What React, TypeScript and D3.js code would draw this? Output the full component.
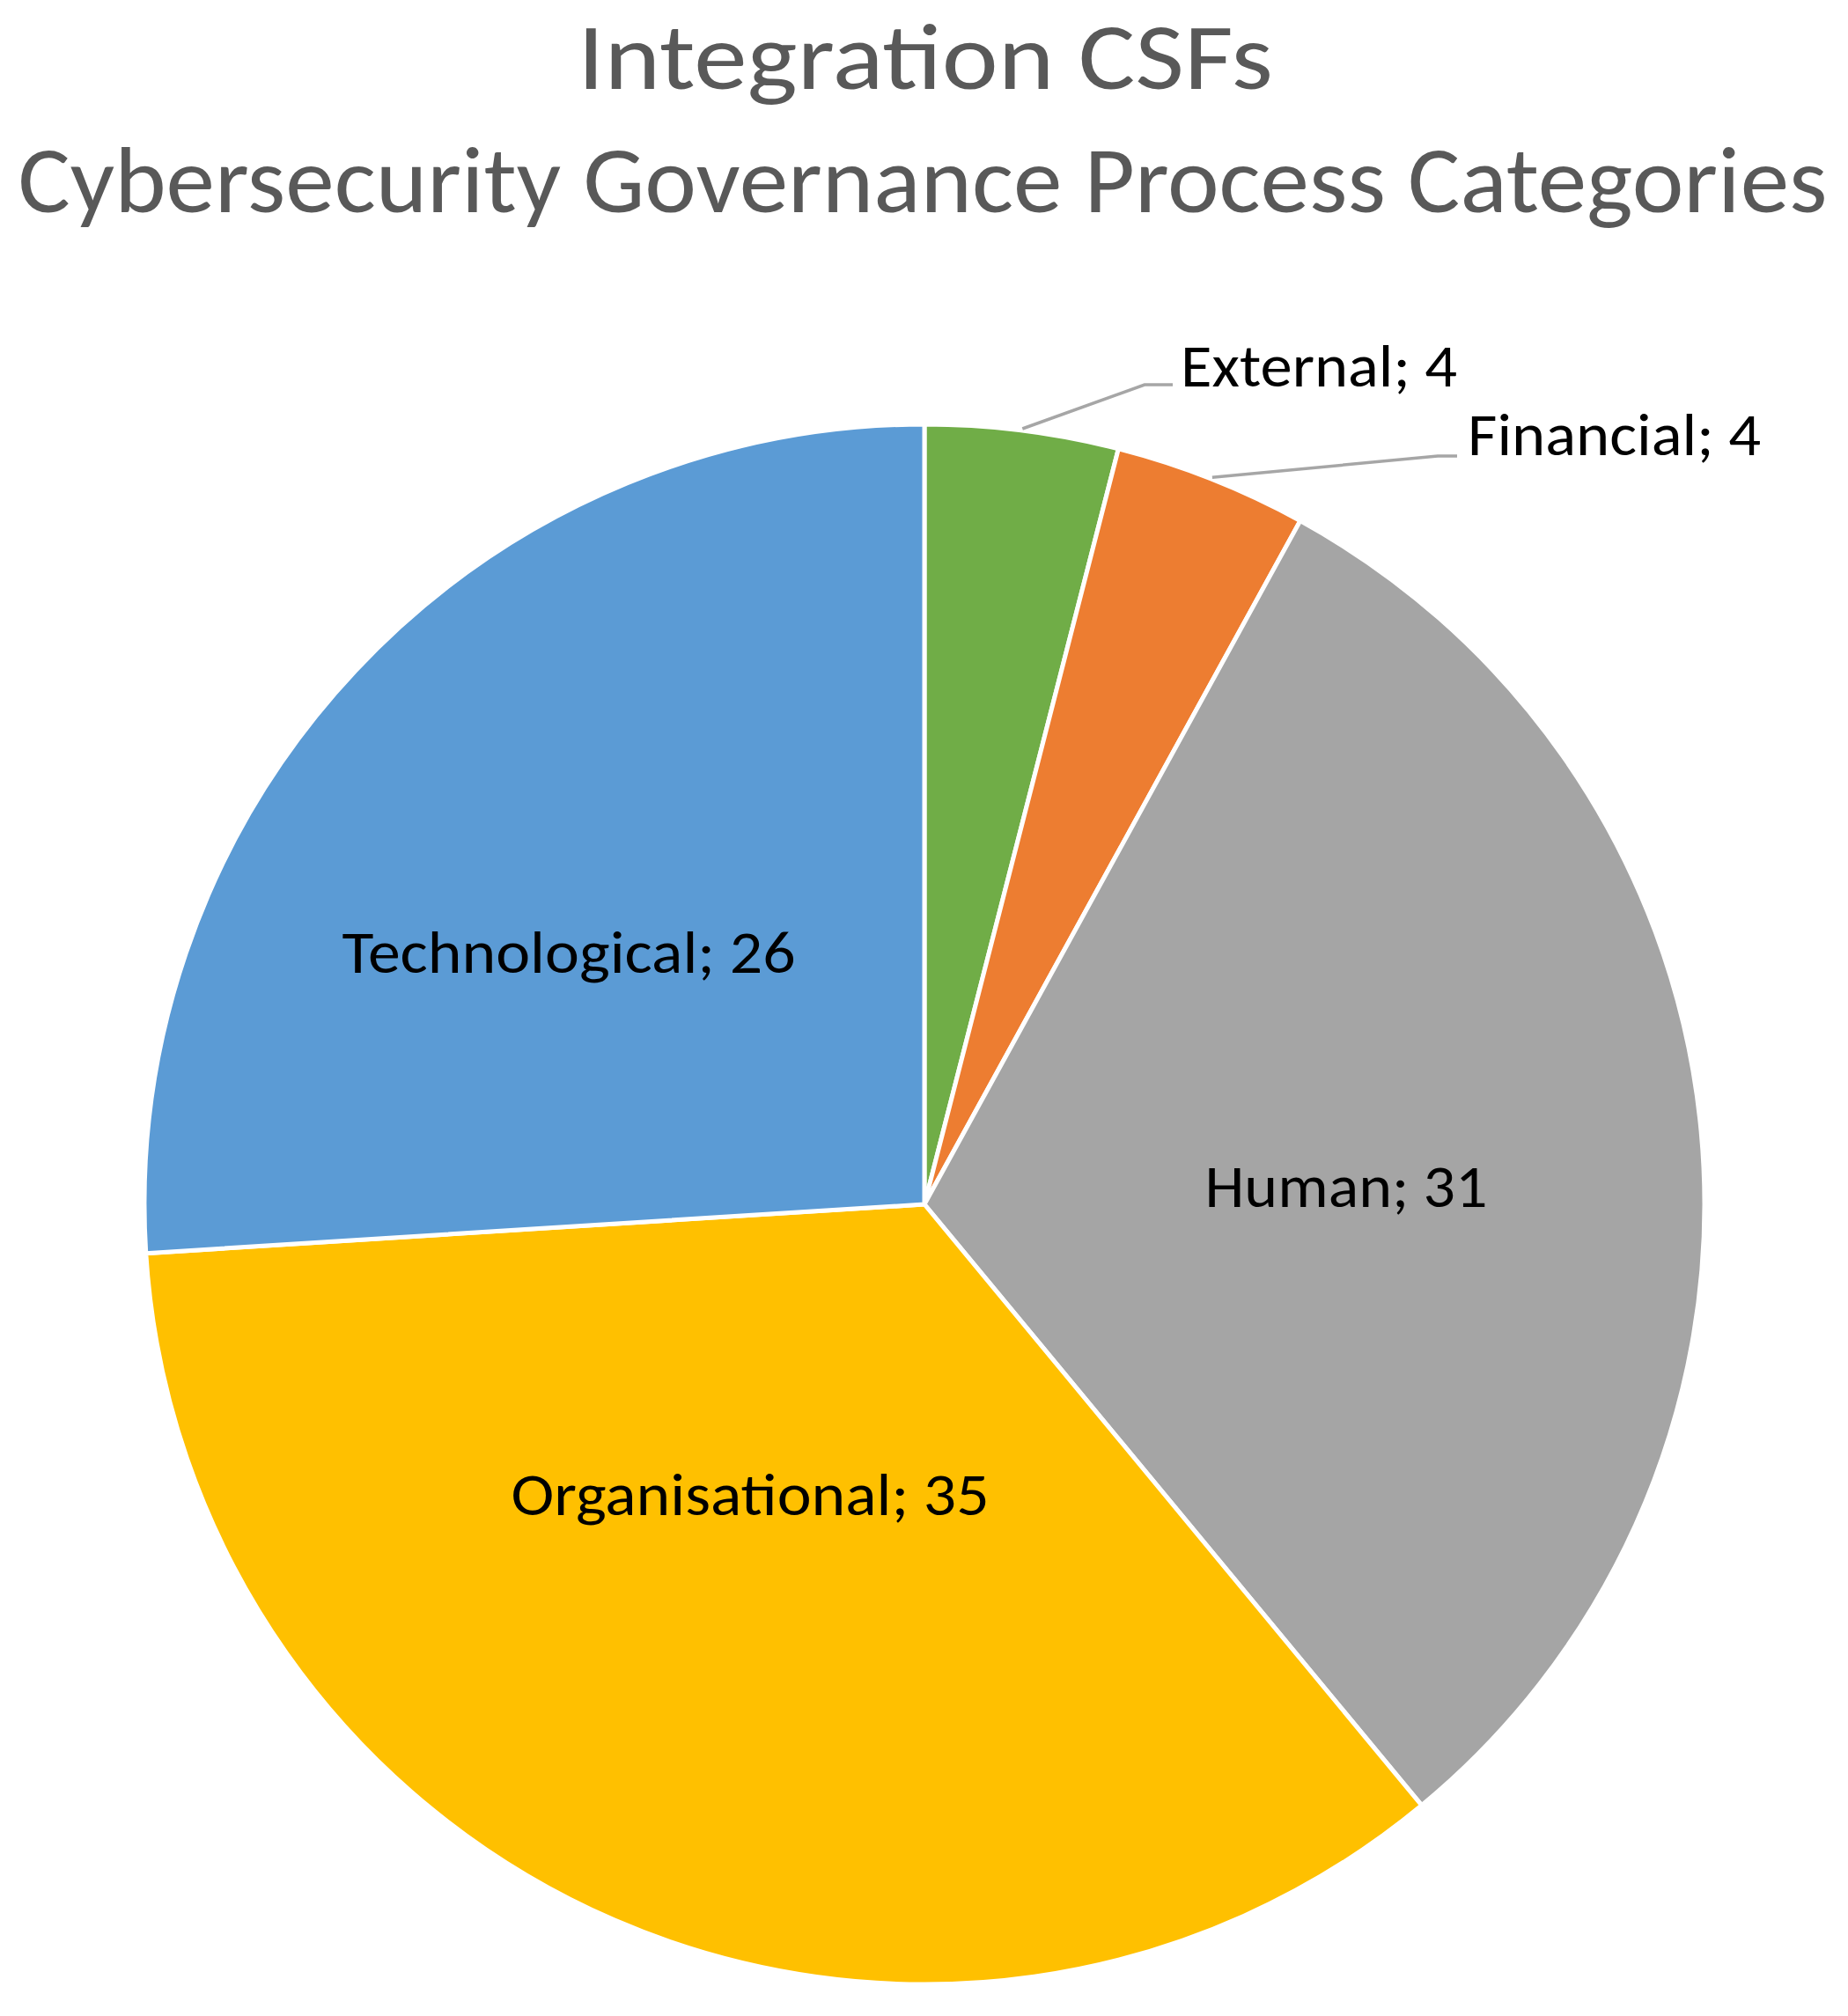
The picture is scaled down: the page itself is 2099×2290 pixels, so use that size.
import React from "react";
import * as d3 from "d3";

const categories = ["External", "Financial", "Human", "Organisational", "Technological"];
const counts = [4, 4, 31, 35, 26];
const colors = ["#70AD47", "#ED7D31", "#A5A5A5", "#FFC000", "#5B9BD5"];
const titleLines = ["Integration CSFs", "Cybersecurity Governance Process Categories"];

const width = 2099, height = 2290;
const center = { x: 1050, y: 1368 };
const radius = 886;
const fontFamily = "Carlito, Calibri, Lato, sans-serif";

// label placement relative to pie center (baseline), Excel-ish best fit
const labelLayout = [
  { dx: 291, dy: -929, anchor: "start", len: 314, leader: { ex: 250, ey: -931, hx: 282 } },
  { dx: 617, dy: -851, anchor: "start", len: 333, leader: { ex: 583, ey: -850, hx: 605 } },
  { dx: 479, dy: 3, anchor: "middle", len: 321 },
  { dx: -198, dy: 353, anchor: "middle", len: 543 },
  { dx: -404, dy: -263, anchor: "middle", len: 515 },
];

const App = () => {
  const data = categories.map((name, i) => ({ name, value: counts[i], color: colors[i] }));
  const pie = d3.pie<any>().sort(null).value(d => d.value);
  const arcs = pie(data);
  const arc = d3.arc<any>().innerRadius(0).outerRadius(radius);
  const edge = d3.arc<any>().innerRadius(radius + 2).outerRadius(radius + 2);

  return (
    <svg width={width} height={height} style={{ position: "absolute", left: 0, top: 0 }}>
      <rect width={width} height={height} fill="#ffffff" />
      <text x={1051} y={101} textAnchor="middle" fontFamily={fontFamily} fontSize={108}
        fill="#595959" textLength={790} lengthAdjust="spacingAndGlyphs">{titleLines[0]}</text>
      <text x={1048} y={241} textAnchor="middle" fontFamily={fontFamily} fontSize={106}
        fill="#595959" textLength={2055} lengthAdjust="spacingAndGlyphs">{titleLines[1]}</text>
      <g transform={`translate(${center.x},${center.y})`}>
        {arcs.map((a) => (
          <path key={a.data.name} d={arc(a) as string} fill={a.data.color} stroke="#ffffff" strokeWidth={5} />
        ))}
        {arcs.map((a, i) => {
          const l = labelLayout[i];
          if (!l.leader) return null;
          const [sx, sy] = edge.centroid(a);
          const pts: [number, number][] = [[sx, sy], [l.leader.ex, l.leader.ey], [l.leader.hx, l.leader.ey]];
          return <path key={"lead" + i} d={d3.line()(pts) as string} fill="none" stroke="#A6A6A6" strokeWidth={3.5} />;
        })}
        {arcs.map((a, i) => {
          const l = labelLayout[i];
          return (
            <text key={"lab" + i} x={l.dx} y={l.dy} textAnchor={l.anchor} fontFamily={fontFamily}
              fontSize={67} fill="#000000" textLength={l.len} lengthAdjust="spacingAndGlyphs">
              {`${a.data.name}; ${a.data.value}`}
            </text>
          );
        })}
      </g>
    </svg>
  );
};

export default App;
